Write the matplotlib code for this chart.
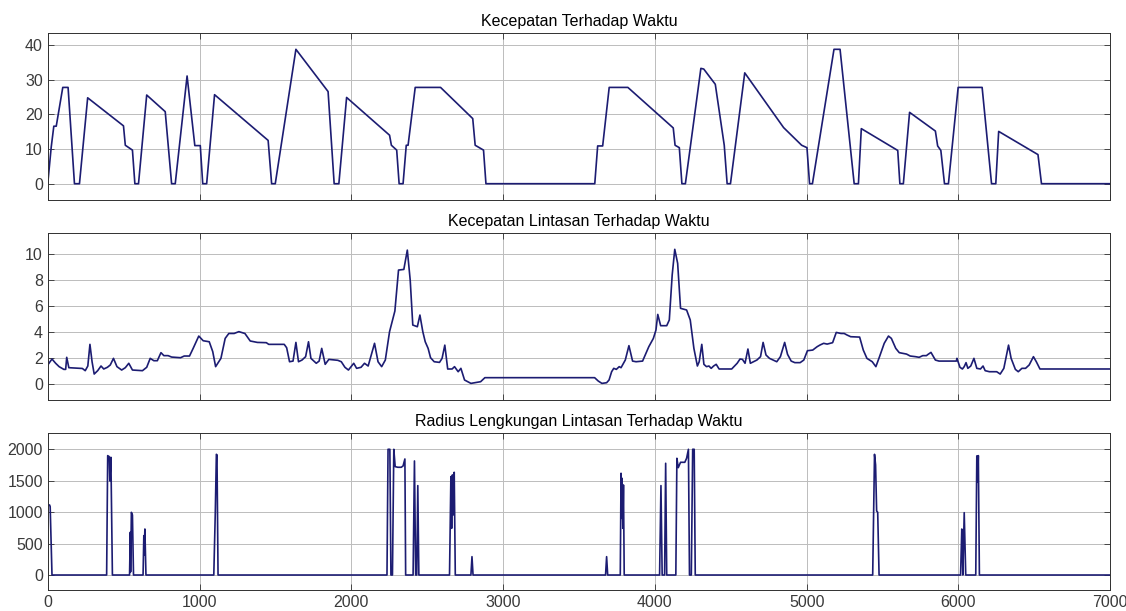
import matplotlib
matplotlib.use("Agg")
import matplotlib.pyplot as plt

# --- Kecepatan Terhadap Waktu ---
t_v = [0, 23, 40, 56, 99, 134, 176, 209, 263, 499, 511, 558, 574, 598, 652, 774,
       816, 840, 918, 969, 1005, 1021, 1047, 1099, 1452, 1475, 1499, 1635, 1847,
       1887, 1918, 1969, 2252, 2264, 2299, 2315, 2341, 2362, 2374, 2421, 2588,
       2800, 2816, 2871, 2887, 3604, 3623, 3656, 3699, 3822, 4121, 4133, 4161,
       4178, 4201, 4303, 4322, 4398, 4457, 4476, 4498, 4592, 4848, 4967, 5002,
       5019, 5038, 5180, 5220, 5313, 5341, 5360, 5600, 5614, 5637, 5678, 5848,
       5863, 5884, 5908, 5934, 5998, 6156, 6218, 6246, 6265, 6524, 6547, 7000]
v = [0, 10.6, 16.6, 16.6, 27.8, 27.8, 0, 0, 24.8, 16.7, 11.1, 9.7, 0, 0, 25.6, 20.8,
     0, 0, 31.1, 11.0, 11.0, 0, 0, 25.7, 12.5, 0, 0, 38.8, 26.6,
     0, 0, 24.9, 14.0, 11.1, 9.7, 0, 0, 11.1, 11.1, 27.8, 27.8,
     18.8, 11.1, 9.7, 0, 0, 10.9, 10.9, 27.8, 27.8, 16.1, 11.1, 10.4,
     0, 0, 33.3, 33.1, 28.7, 11.1, 0, 0, 32.0, 16.2, 11.1, 10.4,
     0, 0, 38.8, 38.8, 0, 0, 15.9, 9.6, 0, 0, 20.6, 15.2,
     10.9, 9.6, 0, 0, 27.8, 27.8, 0, 0, 15.1, 8.4, 0, 0]

# --- Kecepatan Lintasan Terhadap Waktu ---
t_vl = [0, 28, 52, 75, 106, 118, 125, 139, 228, 247, 264, 278, 292, 306, 329, 351,
        369, 393, 412, 433, 456, 487, 511, 534, 558, 624, 652, 675, 699, 722, 746,
        765, 793, 816, 875, 899, 934, 958, 995, 1024, 1064, 1087, 1106, 1141, 1169,
        1193, 1228, 1259, 1299, 1334, 1381, 1440, 1456, 1558, 1574, 1593, 1616,
        1635, 1652, 1675, 1699, 1718, 1734, 1769, 1788, 1805, 1828, 1852, 1911,
        1934, 1958, 1981, 2016, 2035, 2064, 2087, 2111, 2153, 2176, 2200, 2224,
        2252, 2287, 2311, 2346, 2369, 2388, 2405, 2435, 2452, 2471, 2487, 2506,
        2522, 2546, 2581, 2598, 2616, 2635, 2664, 2680, 2704, 2722, 2746, 2788,
        2828, 2852, 2880, 3603, 3627, 3651, 3682, 3698, 3715, 3729, 3746, 3765,
        3777, 3805, 3829, 3853, 3876, 3919, 3960, 3990, 4007, 4019, 4038, 4078,
        4095, 4114, 4131, 4150, 4169, 4209, 4233, 4257, 4280, 4292, 4309, 4323,
        4340, 4356, 4371, 4387, 4404, 4423, 4506, 4542, 4561, 4577, 4594, 4613,
        4629, 4672, 4696, 4713, 4732, 4755, 4803, 4827, 4855, 4874, 4898, 4922,
        4957, 4981, 5005, 5040, 5069, 5088, 5112, 5135, 5171, 5195, 5226, 5247,
        5266, 5290, 5349, 5373, 5397, 5432, 5456, 5480, 5511, 5539, 5558, 5587,
        5610, 5658, 5682, 5717, 5741, 5765, 5789, 5800, 5819, 5848, 5872, 5986,
        5990, 6010, 6026, 6038, 6050, 6062, 6081, 6102, 6121, 6145, 6162, 6176,
        6204, 6252, 6275, 6299, 6330, 6347, 6375, 6394, 6418, 6442, 6466, 6494,
        6513, 6537, 7000]
vl = [1.47, 1.93, 1.6, 1.34, 1.13, 1.13, 2.06, 1.26, 1.2, 1.03, 1.39, 3.06, 1.72, 0.77, 1.03, 1.39,
      1.16, 1.29, 1.47, 1.98, 1.34, 1.08, 1.26, 1.6, 1.08, 1.03, 1.29, 1.98, 1.8, 1.8, 2.42,
      2.19, 2.19, 2.08, 2.03, 2.16, 2.16, 2.75, 3.7, 3.34, 3.26, 2.5, 1.34, 1.98, 3.52,
      3.9, 3.9, 4.04, 3.9, 3.32, 3.21, 3.19, 3.06, 3.06, 2.8, 1.72, 1.77,
      3.21, 1.72, 1.85, 2.11, 3.26, 1.98, 1.6, 1.77, 2.75, 1.52, 1.9, 1.83,
      1.72, 1.29, 1.08, 1.6, 1.21, 1.29, 1.6, 1.39, 3.14, 1.72, 1.34, 1.85,
      4.04, 5.63, 8.79, 8.84, 10.33, 8.02, 4.55, 4.42, 5.32, 4.04, 3.26, 2.75,
      2.03, 1.72, 1.67, 1.98, 3.0, 1.16, 1.16, 1.34, 0.95, 1.21, 0.31, 0.05,
      0.13, 0.18, 0.49, 0.49, 0.23, 0.05, 0.1, 0.31, 0.95, 1.21, 1.13, 1.34,
      1.26, 1.85, 2.96, 1.77, 1.72, 1.77, 2.88, 3.52, 4.16, 5.37, 4.5, 4.5,
      4.94, 8.41, 10.39, 9.31, 5.84, 5.71, 4.94, 2.75, 1.39, 1.72, 3.06, 1.52,
      1.34, 1.39, 1.21, 1.39, 1.52, 1.16, 1.16, 1.6, 1.93, 1.9, 1.6, 2.7,
      1.6, 1.85, 2.11, 3.21, 2.24, 1.98, 1.72, 2.11, 3.21, 2.29, 1.77, 1.65,
      1.65, 1.85, 2.57, 2.62, 2.88, 3.01, 3.14, 3.08, 3.19, 3.98, 3.9, 3.9,
      3.78, 3.65, 3.62, 2.62, 1.98, 1.72, 1.34, 2.11, 3.14, 3.7, 3.52, 2.75,
      2.42, 2.31, 2.16, 2.11, 2.06, 2.19, 2.19, 2.29, 2.44, 1.85, 1.77, 1.77,
      1.98, 1.29, 1.16, 1.34, 1.65, 1.21, 1.39, 1.98, 1.21, 1.16, 1.39, 1.03,
      0.95, 0.95, 0.77, 1.21, 3.0, 1.98, 1.13, 0.95, 1.21, 1.21, 1.47, 2.11,
      1.72, 1.16, 1.16]

# --- Radius Lengkungan Lintasan Terhadap Waktu ---
t_r = [0, 12, 16, 28, 388, 395, 405, 409, 416, 426, 539, 544, 546, 551, 558, 565,
       628, 633, 635, 640, 647, 1094, 1104, 1111, 1115, 1122, 2235, 2242, 2254,
       2261, 2271, 2280, 2289, 2306, 2329, 2341, 2353, 2358, 2407, 2416, 2424,
       2431, 2438, 2445, 2647, 2656, 2661, 2666, 2671, 2678, 2685, 2788, 2795,
       2802, 3675, 3682, 3689, 3772, 3777, 3781, 3784, 3789, 3793, 3798, 4031,
       4040, 4048, 4064, 4071, 4078, 4138, 4145, 4154, 4169, 4197, 4209, 4221,
       4228, 4240, 4249, 4259, 4266, 5435, 5447, 5454, 5461, 5468, 5477, 6014,
       6022, 6026, 6029, 6038, 6048, 6114, 6121, 6126, 6131, 6138, 7000]
r = [1114, 1114, 1088, 0, 0, 1899, 1883, 1496, 1873, 0, 0, 680, 50, 997, 955, 0,
     0, 626, 318, 732, 0, 0, 1008, 1920, 1910, 0, 0, 2000, 2000,
     0, 0, 2000, 1724, 1714, 1714, 1735, 1846, 0, 0, 1814, 0,
     0, 1422, 0, 0, 1565, 743, 1592, 955, 1634, 0, 0, 292,
     0, 0, 292, 0, 0, 1618, 902, 1538, 743, 1432, 0, 0,
     1422, 0, 0, 1777, 0, 0, 1857, 1708, 1793, 1793, 1857, 2000,
     0, 0, 2000, 2000, 0, 0, 1920, 1751, 1019, 997, 0, 0,
     732, 371, 0, 992, 0, 0, 1894, 1485, 1899, 0, 0]

titles = ["Kecepatan Terhadap Waktu",
          "Kecepatan Lintasan Terhadap Waktu",
          "Radius Lengkungan Lintasan Terhadap Waktu"]
yticks = [[0, 10, 20, 30, 40], [0, 2, 4, 6, 8, 10], [0, 500, 1000, 1500, 2000]]
ylims = [(-4.7, 43.6), (-1.21, 11.67), (-243, 2255)]
xticks = [0, 1000, 2000, 3000, 4000, 5000, 6000, 7000]

plt.rcParams["font.family"] = ["Liberation Sans", "DejaVu Sans"]

fig = plt.figure(figsize=(11.26, 6.11), dpi=100)
rects = [[0.0424, 0.6727, 0.9436, 0.2738],
         [0.0424, 0.3458, 0.9436, 0.2733],
         [0.0424, 0.0339, 0.9436, 0.2570]]
series = [(t_v, v), (t_vl, vl), (t_r, r)]
line_col = "#1c1c72"
edge = "#303030"

for i, (rect, (t, y)) in enumerate(zip(rects, series)):
    ax = fig.add_axes(rect)
    ax.plot(t, y, color=line_col, linewidth=1.2)
    ax.set_xlim(0, 7000)
    ax.set_ylim(*ylims[i])
    ax.set_xticks(xticks)
    ax.set_yticks(yticks[i])
    ax.grid(True, color="#bcbcbc", linewidth=0.7)
    ax.set_axisbelow(True)
    for s in ax.spines.values():
        s.set_color(edge)
        s.set_linewidth(0.7)
    ax.tick_params(direction="in", length=4, width=0.6, color=edge,
                   labelcolor="#3a3a3a", labelsize=11.5,
                   top=True, right=True)
    if i < 2:
        ax.tick_params(labelbottom=False)
    ax.set_title(titles[i], fontsize=11.5, pad=5, color="#000000")

fig.savefig("out.png", dpi=100)
